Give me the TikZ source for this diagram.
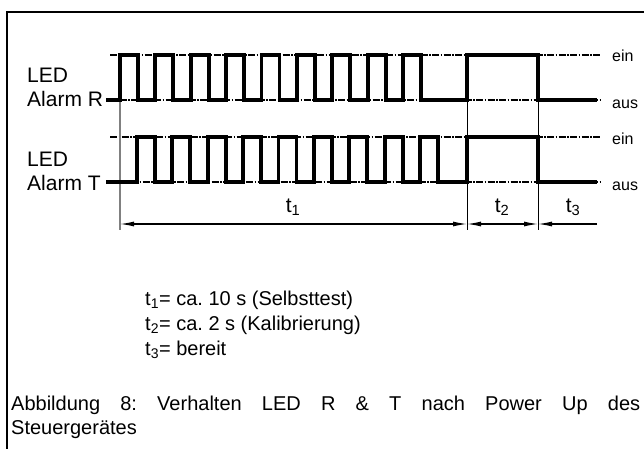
\documentclass[tikz,border=0pt]{standalone}
\usepackage{fontspec}
\setmainfont{Liberation Sans}
\usetikzlibrary{arrows.meta,calc}
\frenchspacing
\tikzset{
  frameline/.style={line width=2pt},
  sigline/.style={line width=3.8pt, line join=miter},
  refline/.style={line width=1.2pt, dash pattern=on 7pt off 1.5pt on 1.5pt off 1.5pt},
  extline/.style={line width=0.9pt},
  gextline/.style={line width=1.2pt, gray},
  dimline/.style={line width=1.2pt},
  dimtip/.style={-{Latex[length=14pt,width=5pt]}},
  lbl/.style={inner sep=0pt, anchor=base west, font=\fontsize{21}{25}\selectfont},
  lvl/.style={inner sep=0pt, anchor=base west, font=\fontsize{16}{19}\selectfont},
  dimlbl/.style={inner sep=0pt, font=\fontsize{21}{25}\selectfont},
  legend/.style={inner sep=0pt, anchor=base west, font=\fontsize{20}{24}\selectfont},
}
\begin{document}
\begin{tikzpicture}[x=1pt,y=-1pt]
\path[use as bounding box] (0,0) rectangle (644,449);
% frame
\draw[frameline] (644,12) -- (7,12) -- (7,449);
% reference lines
\draw[refline] (110,55) -- (600,55);
\draw[refline] (108,100) -- (600,100);
\draw[refline] (110,137) -- (600,137);
\draw[refline] (108,182) -- (600,182);
% extension lines
\coordinate (e1t) at (120,102);
\coordinate (e1b) at (120,230);
\coordinate (e2t) at (467,100);
\coordinate (e2b) at (467,230);
\coordinate (e3t) at (538,100);
\coordinate (e3b) at (538,230);
\draw[gextline] (e1t) -- (e1b);
\draw[extline] (e2t) -- (e2b);
\draw[extline] (e3t) -- (e3b);
% signal R
\draw[sigline] (106,100)
  foreach \k in {0,...,8} { -- ({120+35.375*\k},100) -- ++(0,-45) -- ++(18,0) -- ++(0,45) }
  -- (467,100) -- (467,55) -- (538,55) -- (538,100) -- (597,100);
% signal T
\draw[sigline] (106,182)
  foreach \k in {0,...,8} { -- ({137+35.375*\k},182) -- ++(0,-45) -- ++(18,0) -- ++(0,45) }
  -- (467,182) -- (467,137) -- (538,137) -- (538,182) -- (597,182);
% labels
\node[lbl] (ledr) at (27,83) {LED};
\node[lbl] (alr) at (27,107) {Alarm R};
\node[lbl] (ledt) at (27,167) {LED};
\node[lbl] (alt) at (27,190) {Alarm T};
\node[lvl] (ein1) at (612,62) {ein};
\node[lvl] (aus1) at (612,109) {aus};
\node[lvl] (ein2) at (612,145) {ein};
\node[lvl] (aus2) at (612,190) {aus};
% dimensions
\coordinate (d0) at (120,224);
\coordinate (d1) at (467,224);
\coordinate (d2) at (538,224);
\coordinate (d3) at (597,224);
\draw[dimline, dimtip] ($(d0)!0.5!(d1)$) -- (d0);
\draw[dimline, dimtip] ($(d0)!0.5!(d1)$) -- (d1);
\draw[dimline, dimtip] ($(d1)!0.5!(d2)$) -- (d1);
\draw[dimline, dimtip] ($(d1)!0.5!(d2)$) -- (d2);
\draw[dimline, dimtip] (d3) -- (d2);
\node[dimlbl] (t1) at (293,207) {t\textsubscript{1}};
\node[dimlbl] (t2) at (502,207) {t\textsubscript{2}};
\node[dimlbl] (t3) at (573,207) {t\textsubscript{3}};
% legend
\node[legend] (l1) at (145,305) {t\textsubscript{1}= ca. 10 s (Selbsttest)};
\node[legend] (l2) at (145,330) {t\textsubscript{2}= ca. 2 s (Kalibrierung)};
\node[legend] (l3) at (145,355) {t\textsubscript{3}= bereit};
% caption
\node[legend] (c1) at (11,410) {\makebox[629pt][s]{Abbildung 8: Verhalten LED R \& T nach Power Up des}};
\node[legend] (c2) at (11,434) {Steuergerätes};
\end{tikzpicture}
\end{document}
